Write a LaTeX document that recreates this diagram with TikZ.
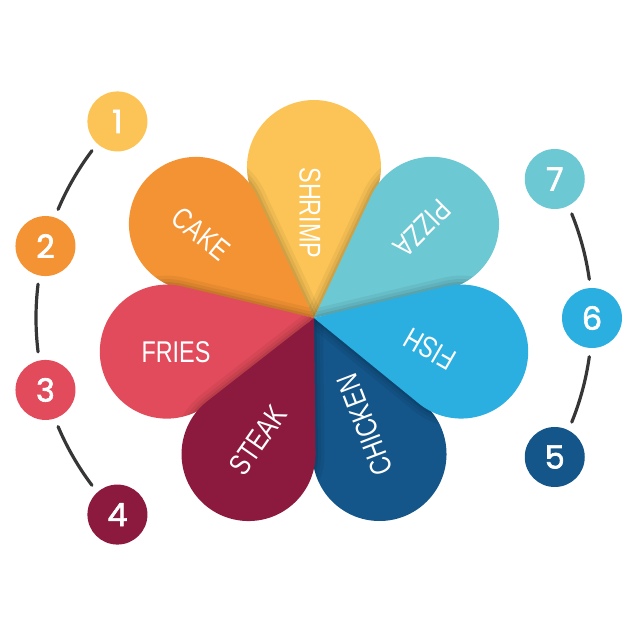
\documentclass[tikz,border=0pt]{standalone}
\usepackage{fontspec}
\usetikzlibrary{calc}
\newfontfamily\labfont[FakeStretch=0.78]{Liberation Sans}
\newfontfamily\numfont[FakeBold=2]{Poppins}
\definecolor{cyel}{HTML}{FCC456}
\definecolor{ctea}{HTML}{6CC8D2}
\definecolor{csky}{HTML}{2BAEE0}
\definecolor{cnav}{HTML}{14558A}
\definecolor{cmar}{HTML}{8C1A3F}
\definecolor{cred}{HTML}{E24B5B}
\definecolor{cora}{HTML}{F49333}
\definecolor{cline}{HTML}{363636}
\newcommand{\petalpath}[1]{(O) -- ++({#1-26.33}:135.3) arc[start angle={#1-116.33}, end angle={#1+116.33}, radius=67] -- cycle}
\newcommand{\petalshadow}[2]{%
  \begin{scope}
    \clip \petalpath{#2};
    \draw[black, opacity=0.05, line width=18] \petalpath{#1};
    \draw[black, opacity=0.06, line width=11] \petalpath{#1};
    \draw[black, opacity=0.08, line width=5] \petalpath{#1};
  \end{scope}}
\begin{document}
\begin{tikzpicture}[x=1pt, y=1pt,
  lab/.style={text=white, font=\labfont\fontsize{30}{30}\selectfont, inner sep=0pt},
  num/.style={circle, minimum size=60, inner sep=0pt, text=white, font=\numfont\fontsize{32}{32}\selectfont},
  arcline/.style={draw=cline, line width=3.2, line cap=round}]
\useasboundingbox (0,0) rectangle (640,640);
\coordinate (O) at (314,322);
% petals, bottom to top
\fill[cyel] \petalpath{90};
\petalshadow{141.43}{90}
\fill[cora] \petalpath{141.43};
\fill[cnav] \petalpath{-64.29};
\petalshadow{38.57}{90}
\fill[ctea] \petalpath{38.57};
\petalshadow{192.86}{141.43}
\fill[cred] \petalpath{192.86};
\petalshadow{-12.86}{38.57}
\petalshadow{-12.86}{-64.29}
\fill[csky] \petalpath{-12.86};
\petalshadow{-115.71}{-64.29}
\petalshadow{-115.71}{192.86}
\fill[cmar] \petalpath{-115.71};
% labels
\node[lab, rotate=-90] (tshrimp) at (310,427) {SHRIMP};
\node[lab, rotate=225] (tpizza) at (422,412) {PIZZA};
\node[lab, rotate=150] (tfish) at (430,291) {FISH};
\node[lab, rotate=111] (tchicken) at (365,215) {CHICKEN};
\node[lab, rotate=55] (tsteak) at (258,200) {STEAK};
\node[lab] (tfries) at (176,288) {FRIES};
\node[lab, rotate=-39] (tcake) at (201,406) {CAKE};
% numbered circles
\node[num, fill=cyel] (n1) at ($(O)+(135:278)$) {1};
\node[num, fill=cora] (n2) at ($(O)+(165:278)$) {2};
\node[num, fill=cred] (n3) at ($(O)+(195:278)$) {3};
\node[num, fill=cmar] (n4) at ($(O)+(225:278)$) {4};
\node[num, fill=ctea] (n7) at ($(O)+(30:278)$) {7};
\node[num, fill=csky] (n6) at ($(O)+(0:278)$) {6};
\node[num, fill=cnav] (n5) at ($(O)+(-30:278)$) {5};
% arcs
\draw[arcline] (O) ++(143:278) arc[start angle=143, end angle=157, radius=278];
\draw[arcline] (O) ++(173:278) arc[start angle=173, end angle=187, radius=278];
\draw[arcline] (O) ++(203:278) arc[start angle=203, end angle=217, radius=278];
\draw[arcline] (O) ++(22:278) arc[start angle=22, end angle=8, radius=278];
\draw[arcline] (O) ++(-8:278) arc[start angle=-8, end angle=-22, radius=278];
\end{tikzpicture}
\end{document}
